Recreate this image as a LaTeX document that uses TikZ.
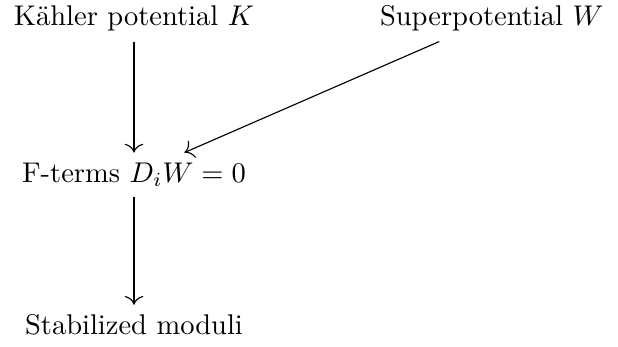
\documentclass[tikz,border=0pt]{standalone}
\usetikzlibrary{arrows.meta}
\begin{document}
\begin{tikzpicture}[x=1pt,y=1pt,
  lbl/.style={anchor=base},
  arr/.style={-{Computer Modern Rightarrow[scale=1.25]}}]
\useasboundingbox (0,0) rectangle (216.8,-121.4);
\node[lbl] (K) at (47.0,-9.1) {K\"ahler potential $K$};
\node[lbl] (W) at (172.5,-9.1) {Superpotential $W$};
\node[lbl] (F) at (47.0,-63.9) {F-terms $D_iW=0$};
\node[lbl] (S) at (47.0,-117.5) {Stabilized moduli};
\draw[arr] (K) -- (F);
\draw[arr] (W) -- (F);
\draw[arr] (F) -- (S);
\end{tikzpicture}
\end{document}
